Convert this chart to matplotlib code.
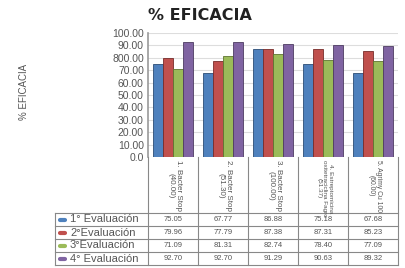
import matplotlib
matplotlib.use("Agg")
import matplotlib.pyplot as plt

plt.rcParams["font.family"] = ["Liberation Sans", "DejaVu Sans"]

categories = ["1. Bacter Stop\n(40.00)", "2. Bacter Stop\n(51.30)", "3. Bacter Stop\n(100.00)",
              "4. Estreptomicina\noxitetraciclina Fagro\n(51.37)", "5. Agrimy Cu 100\n(60.00)"]
series_names = ["1° Evaluación", "2°Evaluación", "3°Evaluación", "4° Evaluación"]
eval1 = [75.05, 67.77, 86.88, 75.18, 67.68]
eval2 = [79.96, 77.79, 87.38, 87.31, 85.23]
eval3 = [71.09, 81.31, 82.74, 78.40, 77.09]
eval4 = [92.70, 92.70, 91.29, 90.63, 89.32]
series = [eval1, eval2, eval3, eval4]
yticks = [0, 10, 20, 30, 40, 50, 60, 70, 80, 90, 100]
ytick_labels = ["0.0", "10.00", "20.00", "30.00", "40.00", "50.00", "60.00", "70.00", "800.00", "90.00", "100.00"]
colors = ["#4F81BD", "#C0504D", "#9BBB59", "#8064A2"]
edge_colors = ["#2C4D75", "#772C2A", "#5F7530", "#4D3B62"]
label_sizes = [5.8, 5.8, 5.8, 4.6, 4.9]

W, H = 406, 268
fig = plt.figure(figsize=(W / 100, H / 100), dpi=100)
fig.patch.set_facecolor("white")

gray = "#555555"
x0, x1 = 148, 398
ytop, ybot = 33, 157

ax = fig.add_axes([x0 / W, 1 - ybot / H, (x1 - x0) / W, (ybot - ytop) / H])
ax.set_xlim(-0.5, 4.5)
ax.set_ylim(0, 100)
bw = 0.2
for k, vals in enumerate(series):
    xs = [i - 0.3 + k * bw for i in range(len(vals))]
    ax.bar(xs, vals, width=bw, color=colors[k], edgecolor=edge_colors[k], linewidth=0.6, zorder=3)
ax.set_yticks(yticks)
ax.set_yticklabels(ytick_labels, fontsize=7.5, color=gray)
ax.set_xticks([])
ax.tick_params(axis="y", length=0, pad=3)
ax.yaxis.grid(True, color="#dddddd", linewidth=0.8, zorder=0)
for s in ["top", "right", "bottom"]:
    ax.spines[s].set_visible(False)
ax.spines["left"].set_color("#999999")
ax.spines["left"].set_linewidth(1.2)
ax.set_facecolor("white")

fig.text(24 / W, 1 - 92 / H, "% EFICACIA", rotation=90, fontsize=7, color=gray, ha="center", va="center")
fig.text(200 / W, 1 - 16 / H, "% EFICACIA", fontsize=11.5, fontweight="bold", color="#222222",
         ha="center", va="center", family=["DejaVu Sans"])

tb = fig.add_axes([x0 / W, 0, (x1 - x0) / W, (H - ybot) / H])
tb.set_xlim(-0.5, 4.5)
tb.set_ylim(H - ybot, 0)
tb.axis("off")
left_x = -0.5 - (x0 - 55) / 50.0
line_c = "#888888"
label_h = 56
row_h = 13
nrows = len(series)
bottom = label_h + row_h * nrows
for i in range(len(categories) + 1):
    tb.plot([i - 0.5, i - 0.5], [0, bottom], color=line_c, lw=0.8, clip_on=False)
tb.plot([left_x, left_x], [label_h, bottom], color=line_c, lw=0.8, clip_on=False)
for r in range(nrows + 1):
    y = label_h + r * row_h
    tb.plot([left_x, 4.5], [y, y], color=line_c, lw=0.8, clip_on=False)
for i, c in enumerate(categories):
    tb.text(i + 0.03, 3, c, rotation=270, ha="center", va="top", fontsize=label_sizes[i], color=gray,
            linespacing=1.15, multialignment="center")
for r, (name, vals) in enumerate(zip(series_names, series)):
    yc = label_h + r * row_h + row_h / 2
    tb.plot([left_x + 0.1, left_x + 0.2], [yc, yc], color=colors[r], lw=3, solid_capstyle="round", clip_on=False)
    tb.text(left_x + 0.3, yc, name, fontsize=8, color=gray, ha="left", va="center")
    for i, v in enumerate(vals):
        tb.text(i, yc, f"{v:.2f}", fontsize=5.5, color=gray, ha="center", va="center")

fig.savefig("out.png", dpi=100)
